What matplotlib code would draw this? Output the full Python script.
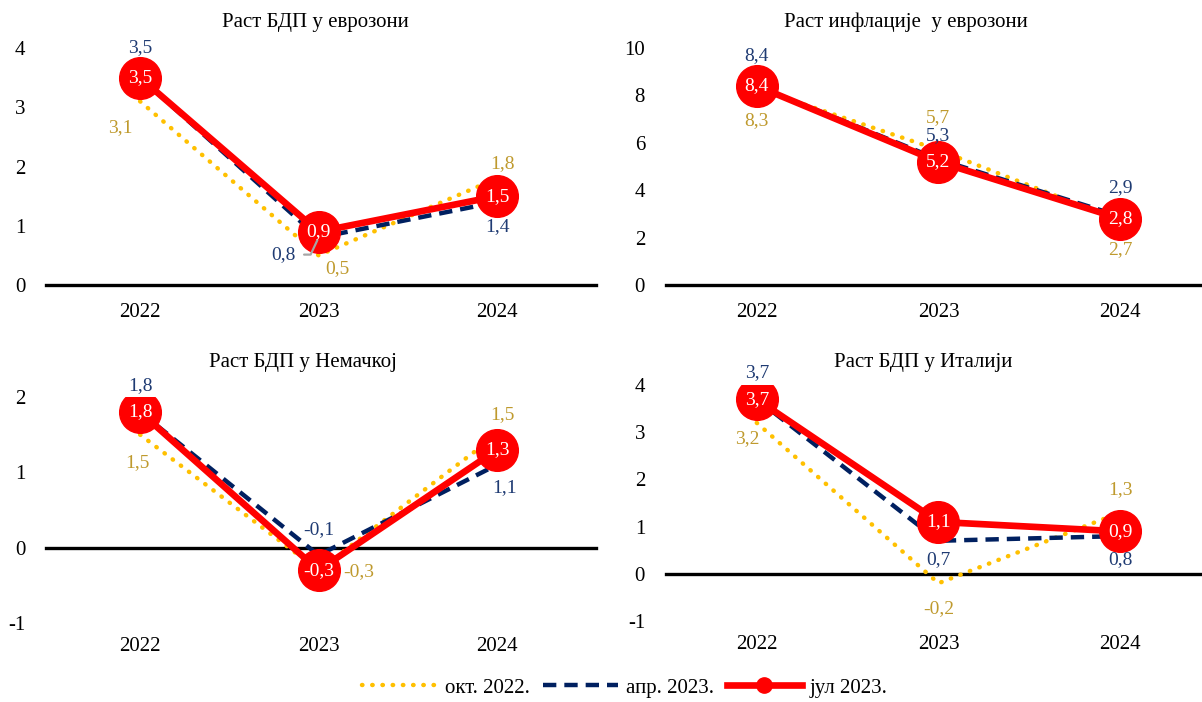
import matplotlib.pyplot as plt
from matplotlib.lines import Line2D

plt.rcParams.update({
    'font.family': ['Liberation Serif', 'DejaVu Serif'],
    'font.size': 14,
})

years = ['2022', '2023', '2024']
series_names = ['окт. 2022.', 'апр. 2023.', 'јул 2023.']

titles = ['Раст БДП у еврозони', 'Раст инфлације  у еврозони',
          'Раст БДП у Немачкој', 'Раст БДП у Италији']

# GDP eurozone
ez_gdp_okt = [3.1, 0.5, 1.8]
ez_gdp_apr = [3.5, 0.8, 1.4]
ez_gdp_jul = [3.5, 0.9, 1.5]
# inflation eurozone
ez_inf_okt = [8.3, 5.7, 2.7]
ez_inf_apr = [8.4, 5.3, 2.9]
ez_inf_jul = [8.4, 5.2, 2.8]
# GDP Germany
de_gdp_okt = [1.5, -0.3, 1.5]
de_gdp_apr = [1.8, -0.1, 1.1]
de_gdp_jul = [1.8, -0.3, 1.3]
# GDP Italy
it_gdp_okt = [3.2, -0.2, 1.3]
it_gdp_apr = [3.7, 0.7, 0.8]
it_gdp_jul = [3.7, 1.1, 0.9]

yellow = '#FFC000'
navy = '#002060'
red = '#FF0000'
gold_txt = '#BF9A2E'
navy_txt = '#1F3B73'

# panel layout: rect, ylim, yticks, xlim, label offsets (pixels)
panels = [
    dict(rect=[0.0383, 0.594, 0.4576, 0.3376], ylim=(0, 4), yticks=[0, 1, 2, 3, 4],
         xlim=(-0.527, 2.555), data=(ez_gdp_okt, ez_gdp_apr, ez_gdp_jul),
         off_okt=[(-20, -26), (19, -13), (5, 15)],
         off_apr=[(0, 30), (-35, -17), (0, -25)], xpad=13, title_xy=(0.262, 0.968)),
    dict(rect=[0.554, 0.594, 0.446, 0.3376], ylim=(0, 10), yticks=[0, 2, 4, 6, 8, 10],
         xlim=(-0.5, 2.45), data=(ez_inf_okt, ez_inf_apr, ez_inf_jul),
         off_okt=[(0, -32), (0, 32), (0, -29)],
         off_apr=[(0, 30), (0, 24), (0, 29)], xpad=13, title_xy=(0.754, 0.968)),
    dict(rect=[0.0383, 0.1125, 0.4576, 0.322], ylim=(-1, 2), yticks=[-1, 0, 1, 2],
         xlim=(-0.527, 2.555), data=(de_gdp_okt, de_gdp_apr, de_gdp_jul),
         off_okt=[(-3, -28), (40, -1), (5, 20)],
         off_apr=[(0, 26), (0, 26), (8, -23)], xpad=10, title_xy=(0.252, 0.484)),
    dict(rect=[0.554, 0.1154, 0.446, 0.336], ylim=(-1, 4), yticks=[-1, 0, 1, 2, 3, 4],
         xlim=(-0.5, 2.45), data=(it_gdp_okt, it_gdp_apr, it_gdp_jul),
         off_okt=[(-9, -16), (0, -25), (0, 23)],
         off_apr=[(0, 27), (0, -19), (0, -24)], xpad=10, title_xy=(0.768, 0.484)),
]

fig = plt.figure(figsize=(12.02, 7.02), dpi=100, facecolor='white')


def fmt(v):
    return f"{v:.1f}".replace('.', ',')


for i, p in enumerate(panels):
    ax = fig.add_axes(p['rect'])
    okt, apr, jul = p['data']
    x = list(range(len(years)))
    ax.axhline(0, color='black', linewidth=2.4, zorder=1, clip_on=False)
    ax.plot(x, okt, color=yellow, linestyle=(0, (0.1, 2.2)), linewidth=3.2,
            dash_capstyle='round', zorder=2)
    ax.plot(x, apr, color=navy, linestyle=(0, (3, 1.8)), linewidth=3.2, zorder=3)
    ax.plot(x, jul, color=red, linewidth=4.8, marker='o', markersize=30,
            markeredgecolor=red, zorder=4)

    for j in x:
        ax.annotate(fmt(okt[j]), (j, okt[j]), xytext=p['off_okt'][j],
                    textcoords='offset pixels', ha='center', va='center',
                    color=gold_txt, fontsize=14, zorder=5)
        if i == 0 and j == 1:
            # label with grey leader line
            ax.annotate(fmt(apr[j]), (j, apr[j]), xytext=p['off_apr'][j],
                        textcoords='offset pixels', ha='center', va='center',
                        color=navy_txt, fontsize=14, zorder=6,
                        arrowprops=dict(arrowstyle='-', color='#A6A6A6', lw=1.6,
                                        relpos=(1, 0.5), shrinkA=4, shrinkB=2,
                                        connectionstyle='angle,angleA=0,angleB=65,rad=0'))
        else:
            ax.annotate(fmt(apr[j]), (j, apr[j]), xytext=p['off_apr'][j],
                        textcoords='offset pixels', ha='center', va='center',
                        color=navy_txt, fontsize=14, zorder=5)
        ax.text(j, jul[j], fmt(jul[j]), ha='center', va='center', color='white',
                fontsize=14, zorder=7)

    ax.set_xlim(p['xlim'])
    ax.set_ylim(p['ylim'])
    ax.set_yticks(p['yticks'])
    ax.set_yticklabels([str(t) for t in p['yticks']])
    ax.set_xticks(x)
    ax.set_xticklabels(years)
    ax.tick_params(axis='both', length=0, labelsize=15)
    ax.tick_params(axis='y', pad=15)
    ax.tick_params(axis='x', pad=p['xpad'])
    for s in ax.spines.values():
        s.set_visible(False)
    ax.patch.set_alpha(0)
    fig.text(p['title_xy'][0], p['title_xy'][1], titles[i], ha='center', va='center',
             fontsize=15)

handles = [
    Line2D([], [], color=yellow, linestyle=(0, (0.1, 2.2)), linewidth=3.2,
           dash_capstyle='round'),
    Line2D([], [], color=navy, linestyle=(0, (3, 1.8)), linewidth=3.2),
    Line2D([], [], color=red, linewidth=4.8, marker='o', markersize=11),
]
fig.legend(handles, series_names, loc='center', bbox_to_anchor=(0.52, 0.02),
           ncol=3, frameon=False, fontsize=15, handlelength=3.6,
           handletextpad=0.4, columnspacing=0.6)

plt.savefig('out.png', dpi=100)
